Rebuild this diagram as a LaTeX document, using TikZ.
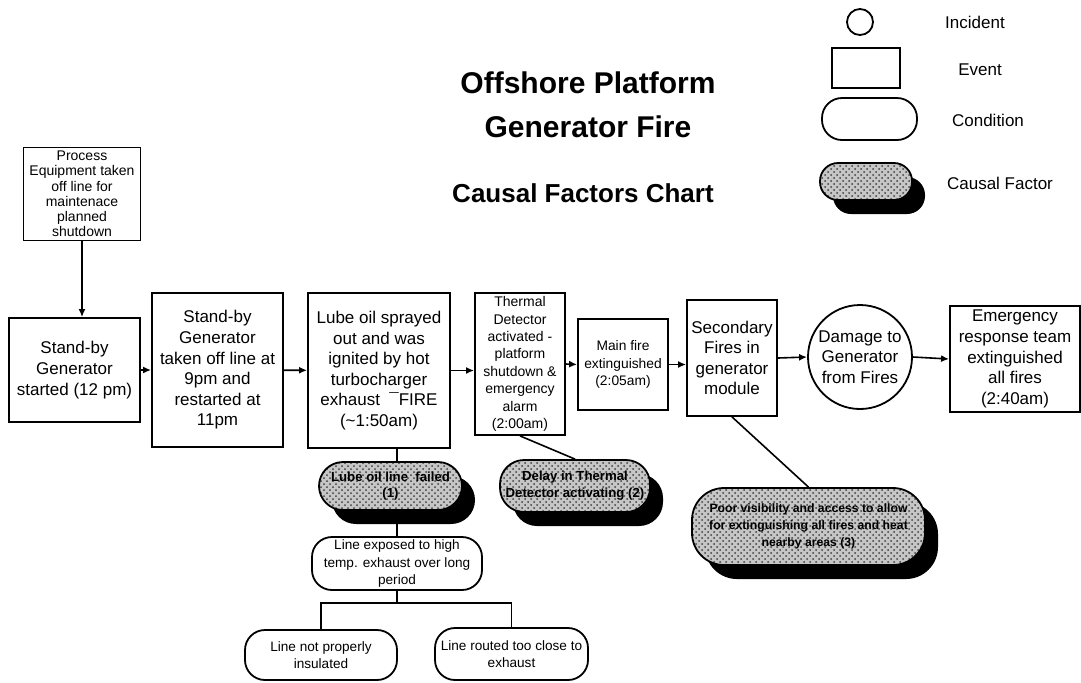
\documentclass[tikz,border=0pt]{standalone}
\usepackage{fontspec}
\setmainfont{Liberation Sans}
\usepackage{tikz}
\usetikzlibrary{arrows.meta,shapes,shadows,patterns,backgrounds,positioning}
\tikzset{%
  event/.style={draw,line width=0.9pt,align=center,inner sep=0pt,font=\fontsize{8.5}{10.3}\selectfont},
  smallevent/.style={event,font=\fontsize{7}{8.7}\selectfont},
  incident/.style={draw,line width=0.9pt,circle,align=center,inner sep=0pt,font=\fontsize{8.5}{10.3}\selectfont},
  condition/.style={draw,line width=0.9pt,rounded corners=10pt,align=center,inner sep=0pt,font=\fontsize{6.8}{8.7}\selectfont},
  causal/.style={draw,line width=0.9pt,rounded corners=12pt,align=center,inner sep=0pt,
    drop shadow={shadow xshift=6.5pt,shadow yshift=-7pt,fill=black,opacity=1},
    preaction={fill=gray!45},pattern=crosshatch dots,pattern color=black!75,
    font=\bfseries\fontsize{6.6}{8.4}\selectfont},
  keytext/.style={font=\fontsize{8.5}{10.3}\selectfont},
  link/.style={-{Latex[length=4pt,width=3.5pt]},line width=0.8pt},
  tie/.style={line width=0.8pt},
}

\begin{document}
\begin{tikzpicture}[x=0.5pt,y=-0.5pt]
  \useasboundingbox (0,0) rectangle (1081,682);
  % title
  \node[font=\bfseries\fontsize{15}{22}\selectfont,align=center] (title) at (588,105) {Offshore Platform\\Generator Fire};
  \node[font=\bfseries\fontsize{13}{15}\selectfont] (subtitle) at (583,193) {Causal Factors Chart};
  % key
  \node[incident,minimum size=13pt] (keyinc) at (860,22) {};
  \node[keytext] (keyinctxt) at (975,22) {Incident};
  \node[event,minimum width=34pt,minimum height=20pt] (keyev) at (866,68) {};
  \node[keytext] (keyevtxt) at (980,70) {Event};
  \node[condition,minimum width=47.5pt,minimum height=21pt] (keycond) at (869.5,119) {};
  \node[keytext] (keycondtxt) at (988,120) {Condition};
  \node[causal,rounded corners=9pt,minimum width=46pt,minimum height=18.5pt] (keycf) at (866,181.5) {};
  \node[keytext] (keycftxt) at (1000,183) {Causal Factor};
  % event chain
  \node[smallevent,font=\fontsize{7}{7.6}\selectfont,minimum width=58.5pt,minimum height=46.5pt] (prep) at (82,194)
    {Process\\Equipment taken\\off line for\\maintenace\\planned\\shutdown};
  \node[event,minimum width=65.5pt,minimum height=52pt] (start) at (74.5,370)
    {Stand-by\\Generator\\started (12 pm)};
  \node[event,minimum width=65.5pt,minimum height=77pt] (offline) at (217.5,370)
    {Stand-by\\Generator\\taken off line at\\9pm and\\restarted at\\11pm};
  \node[event,minimum width=71pt,minimum height=77.5pt] (spray) at (379,370.5)
    {Lube oil sprayed\\out and was\\ignited by hot\\turbocharger\\exhaust \ ¯FIRE\\(\textasciitilde 1:50am)};
  \node[smallevent,minimum width=45pt,minimum height=71pt] (detect) at (520,364)
    {Thermal\\Detector\\activated -\\platform\\shutdown \&\\emergency\\alarm\\(2:00am)};
  \node[smallevent,font=\fontsize{6.9}{8.6}\selectfont,minimum width=45pt,minimum height=45.5pt] (mainfire) at (623,364.5)
    {Main fire\\extinguished\\(2:05am)};
  \node[event,minimum width=45pt,minimum height=58pt] (secondary) at (732,358)
    {Secondary\\Fires in\\generator\\module};
  \node[incident,minimum size=52pt] (damage) at (860,357)
    {Damage to\\Generator\\from Fires};
  \node[event,minimum width=65pt,minimum height=53pt] (emergency) at (1015,359)
    {Emergency\\response team\\extinguished\\all fires\\(2:40am)};
  % causal factors
  \node[causal,minimum width=71.5pt,minimum height=24pt] (cf1) at (390.5,486)
    {Lube oil line \ failed\\(1)};
  \node[causal,minimum width=75pt,minimum height=26pt] (cf2) at (575,486)
    {Delay in Thermal\\Detector activating (2)};
  \node[causal,rounded corners=16pt,minimum width=116.5pt,minimum height=38.5pt,
    font=\bfseries\fontsize{6.1}{8.4}\selectfont] (cf3) at (808.5,526.5)
    {Poor visibility and access to allow\\for extinguishing all fires and heat\\nearby areas (3)};
  % conditions
  \node[condition,minimum width=85pt,minimum height=26.5pt] (exposed) at (397,563.5)
    {Line exposed to high\\temp. exhaust over long\\period};
  \node[condition,minimum width=76pt,minimum height=25pt] (insul) at (321,655)
    {Line not properly\\insulated};
  \node[condition,minimum width=76.5pt,minimum height=26pt] (routed) at (511.5,654)
    {Line routed too close to\\exhaust};
  \coordinate (fork) at (397,603);
  % connectors
  \draw[link] (prep.south) -- (prep.south |- start.north);
  \draw[link] (start) -- (offline);
  \draw[link] (offline) -- (spray);
  \draw[link] (spray.east) -- (spray.east -| detect.west);
  \draw[link] (detect.east) -- (mainfire.west);
  \draw[link] (mainfire.east) -- (mainfire.east -| secondary.west);
  \draw[link] (secondary.east) -- (damage.west);
  \draw[link] (damage.east) -- (emergency.west);
  \begin{scope}[on background layer]
    \draw[tie] (exposed.north |- spray.south) -- (exposed.north);
  \end{scope}
  \draw[tie] (exposed.south) -- (fork);
  \draw[tie] (fork) -| (insul.north);
  \draw[tie] (fork) -| (routed.north);
  \draw[tie] (detect.south) -- (cf2.north);
  \draw[tie] (secondary.south) -- (cf3.north);
\end{tikzpicture}
\end{document}
